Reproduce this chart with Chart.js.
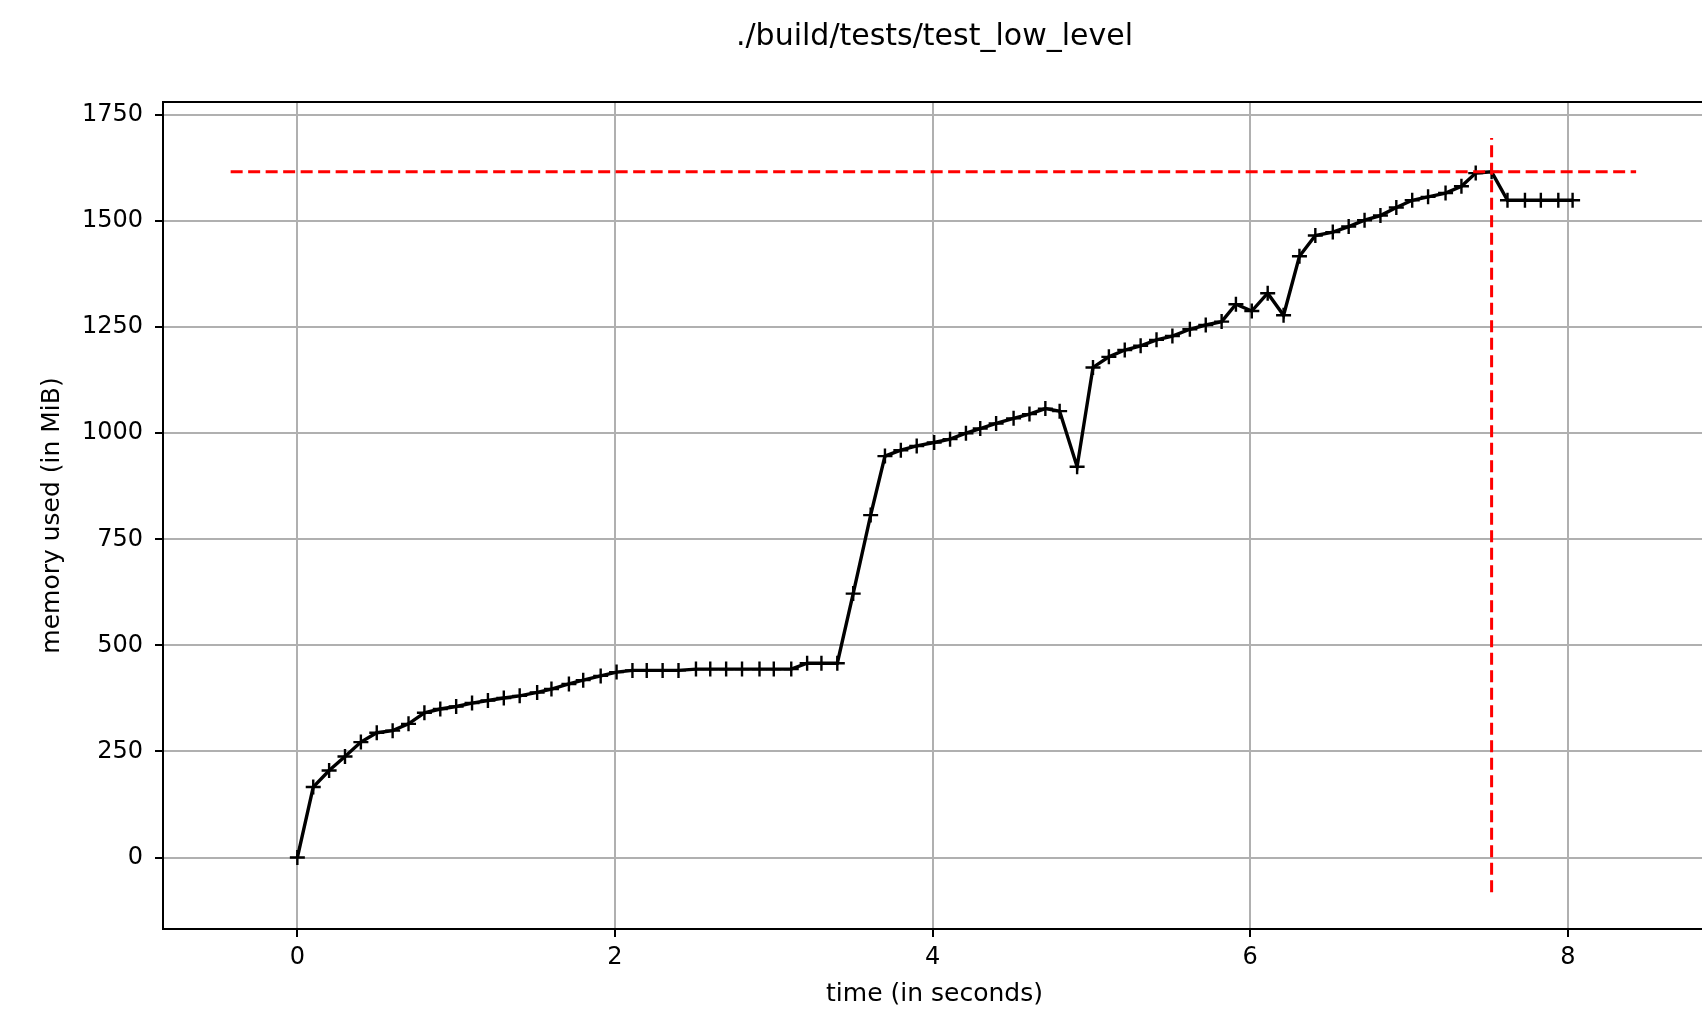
<!DOCTYPE html>
<html>
<head>
<meta charset="utf-8">
<script src="https://cdn.jsdelivr.net/npm/chart.js@4.4.1/dist/chart.umd.min.js"></script>
<style>
  html, body { margin: 0; padding: 0; background: #fff; overflow: hidden; }
  #wrap { width: 1869px; height: 1009px; }
</style>
</head>
<body>
<div id="wrap"><canvas id="c" width="1869" height="1009"></canvas></div>
<script>
// time stamps (seconds)
const times = [0.00,0.10,0.20,0.30,0.40,0.50,0.60,0.70,0.80,0.90,
  1.00,1.10,1.20,1.30,1.40,1.51,1.60,1.71,1.80,1.91,
  2.01,2.11,2.20,2.30,2.40,2.51,2.60,2.70,2.80,2.91,
  3.00,3.11,3.21,3.30,3.40,3.50,3.61,3.70,3.80,3.90,
  4.01,4.11,4.21,4.30,4.40,4.51,4.61,4.71,4.80,4.91,
  5.01,5.11,5.21,5.31,5.41,5.51,5.62,5.72,5.82,5.91,
  6.01,6.11,6.21,6.31,6.41,6.52,6.62,6.72,6.82,6.92,
  7.02,7.12,7.23,7.33,7.42,7.52,7.62,7.73,7.83,7.94,8.03];
// memory used (MiB)
const memory = [0,166,205,238,272,294,299,315,341,350,
  356,364,370,376,381,389,397,409,418,428,
  437,441,441,441,441,444,444,444,444,444,
  444,444,458,458,458,622,807,946,960,970,
  978,986,1000,1011,1023,1035,1045,1058,1052,921,
  1155,1180,1196,1206,1220,1229,1245,1255,1263,1304,
  1288,1330,1278,1417,1466,1474,1487,1502,1513,1532,
  1549,1557,1566,1582,1613,1616,1549,1549,1549,1549,1549];
// peak markers
const peakMem = 1616;
const peakTime = 7.52;
const hlineX = [-0.42, 8.43];
const vlineY = [-82, 1696];
// axes
const xTicks = [0, 2, 4, 6, 8];
const yTicks = [0, 250, 500, 750, 1000, 1250, 1500, 1750];
const xRange = [-0.846, 8.87];
const yRange = [-168.5, 1780.6];
const titleText = './build/tests/test_low_level';
const xLabel = 'time (in seconds)';
const yLabel = 'memory used (in MiB)';

const series = times.map((t, i) => ({ x: t, y: memory[i] }));
const hline = hlineX.map(x => ({ x: x, y: peakMem }));
const vline = vlineY.map(y => ({ x: peakTime, y: y }));

const FONT = "'DejaVu Sans', sans-serif";

const framePlugin = {
  id: 'frame',
  afterDraw(chart) {
    const a = chart.chartArea, ctx = chart.ctx;
    ctx.save();
    ctx.strokeStyle = '#000';
    ctx.lineWidth = 2;
    ctx.strokeRect(a.left, a.top, a.right - a.left, a.bottom - a.top);
    // axes title centred over the plot area (matplotlib style)
    ctx.fillStyle = '#000';
    ctx.font = "30px " + FONT;
    ctx.textAlign = 'center';
    ctx.textBaseline = 'middle';
    ctx.fillText(titleText, (a.left + a.right) / 2, 37);
    ctx.restore();
  }
};

new Chart(document.getElementById('c'), {
  type: 'line',
  data: {
    datasets: [
      { data: hline, borderColor: 'red', borderWidth: 3, borderDash: [12, 5.5],
        pointRadius: 0, fill: false, tension: 0 },
      { data: vline, borderColor: 'red', borderWidth: 3, borderDash: [12, 5.5],
        pointRadius: 0, fill: false, tension: 0 },
      { data: series, borderColor: '#000', borderWidth: 3.4, tension: 0, fill: false,
        pointStyle: 'cross', pointRadius: 7.5, pointBorderWidth: 2.4,
        pointBorderColor: '#000', pointBackgroundColor: '#000' }
    ]
  },
  options: {
    responsive: false,
    animation: false,
    devicePixelRatio: 1,
    layout: { padding: { left: 0, top: 102, bottom: 0, right: 163 } },
    plugins: {
      legend: { display: false },
      tooltip: { enabled: false },
      title: { display: false }
    },
    scales: {
      x: {
        type: 'linear', min: xRange[0], max: xRange[1],
        afterBuildTicks: s => { s.ticks = xTicks.map(v => ({ value: v })); },
        afterFit: s => { s.height = 80; },
        ticks: { color: '#000', font: { family: FONT, size: 24 }, padding: 6,
                 maxRotation: 0, autoSkip: false, callback: v => String(v) },
        grid: { color: '#b0b0b0', lineWidth: 2, drawTicks: true, tickLength: 8,
                tickColor: '#000', tickWidth: 2 },
        border: { color: '#000', width: 2 },
        title: { display: true, text: xLabel, color: '#000',
                 font: { family: FONT, size: 25, lineHeight: 1.2 }, padding: { top: 0, bottom: 0 } }
      },
      y: {
        type: 'linear', min: yRange[0], max: yRange[1],
        afterBuildTicks: s => { s.ticks = yTicks.map(v => ({ value: v })); },
        afterFit: s => { s.width = 163; },
        ticks: { color: '#000', font: { family: FONT, size: 24 }, padding: 12,
                 autoSkip: false, callback: v => String(v) },
        grid: { color: '#b0b0b0', lineWidth: 2, drawTicks: true, tickLength: 8,
                tickColor: '#000', tickWidth: 2 },
        border: { color: '#000', width: 2 },
        title: { display: true, text: yLabel, color: '#000',
                 font: { family: FONT, size: 25, lineHeight: 1.2 }, padding: { top: 37, bottom: 0 } }
      }
    }
  },
  plugins: [framePlugin]
});
</script>
</body>
</html>
